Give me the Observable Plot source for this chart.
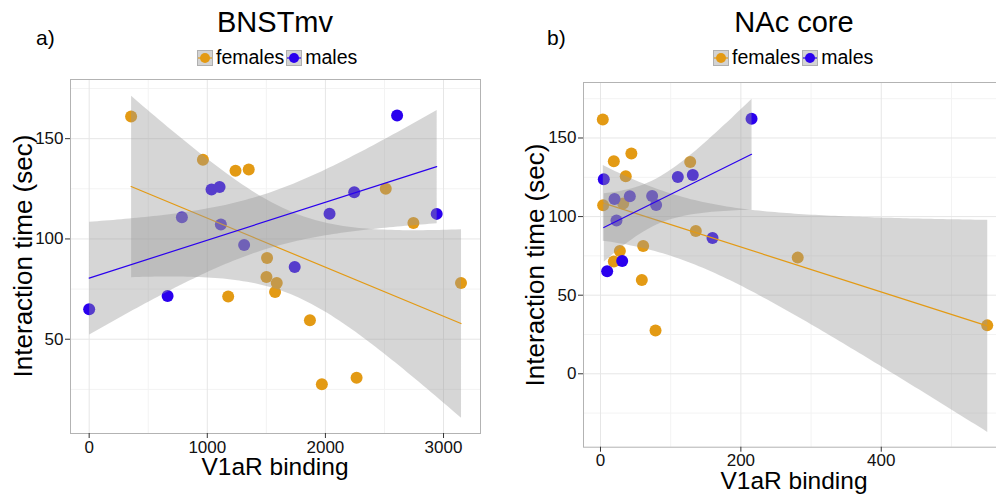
<!DOCTYPE html>
<html>
<head>
<meta charset="utf-8">
<script src="https://cdn.jsdelivr.net/npm/d3@7"></script>
<script src="https://cdn.jsdelivr.net/npm/@observablehq/plot@0.6"></script>
<style>
html, body { margin: 0; padding: 0; background: #fff; }
body { width: 996px; height: 494px; overflow: hidden; position: relative;
       font-family: "Liberation Sans", Arial, Helvetica, sans-serif; color: #000; }
.abs { position: absolute; white-space: nowrap; line-height: 1; }
.title { font-size: 29px; text-align: center; width: 400px; }
.tag { font-size: 21px; }
.xlab { font-size: 24.5px; text-align: center; width: 400px; line-height: 0.75; }
.ylab { font-size: 26px; transform: translate(-50%, -50%) rotate(-90deg); }
.legend { display: flex; align-items: center; font-size: 19.5px; height: 17px; }
.key { display: inline-block; width: 16px; height: 16px; background: #d3d3d3; border: 1px solid #b0b0b0;
       box-sizing: border-box; position: relative; }
.key svg { position: absolute; left: -1px; top: -1px; }
.lt { margin-left: 3px; margin-right: 2px; }
.panel { position: absolute; }
</style>
</head>
<body>
<div id="root"></div>
<script>
// ---- data ----
const sexes = ["females", "males"];
const sexColors = ["#E39A14", "#2A00EE"];

// Panel a: BNSTmv
const bnstFemX = [355, 963, 1239, 1351, 2511, 2745, 1506, 1501, 1588, 1574, 1177, 1869, 1970, 2264, 3148];
const bnstFemY = [161, 139.5, 134, 134.6, 125, 108, 90.5, 81, 78, 73.5, 71.3, 59.5, 27.6, 30.8, 78];
const bnstMalX = [2607, 1036, 1104, 785, 1115, 2244, 2035, 2942, 1312, 1740, 664, 0];
const bnstMalY = [161.5, 124.6, 125.9, 110.8, 107.2, 123.3, 112.6, 112.5, 97, 86, 71.5, 65];
const bnstXTicks = [0, 1000, 2000, 3000];
const bnstXMinor = [500, 1500, 2500];
const bnstYTicks = [50, 100, 150];
const bnstYMinor = [25, 75, 125, 175];

// Panel b: NAc core
const nacFemX = [3.3, 19, 44, 36, 127.8, 3.8, 32.3, 135.8, 60.8, 27.6, 281, 19, 58.9, 78.4, 551];
const nacFemY = [161.8, 135.2, 140.1, 125.7, 134.8, 107.2, 108.3, 90.8, 81.3, 78.1, 73.9, 71.5, 59.6, 27.6, 30.8];
const nacMalX = [215.2, 4.7, 110.2, 131.5, 20, 41.8, 73.6, 79.3, 22.8, 159.6, 30.9, 9.5];
const nacMalY = [162.2, 123.8, 125.2, 126.5, 111.2, 112.9, 113.1, 107.4, 97.5, 86.4, 71.7, 65.2];
const nacXTicks = [0, 200, 400];
const nacXMinor = [100, 300, 500];
const nacYTicks = [0, 50, 100, 150];
const nacYMinor = [-25, 25, 75, 125, 175];

const panelTitles = ["BNSTmv", "NAc core"];
const panelTags = ["a)", "b)"];
const xTitle = "V1aR binding";
const yTitle = "Interaction time (sec)";

// ---- drawing ----
function makePanel(o) {
  const rows = [
    ...o.fx.map((x, i) => ({x, y: o.fy[i], sex: sexes[0]})),
    ...o.mx.map((x, i) => ({x, y: o.my[i], sex: sexes[1]}))
  ];
  const fmt = (d) => String(d);
  return Plot.plot({
    width: o.width, height: o.height,
    marginLeft: o.ml, marginRight: o.mr, marginTop: o.mt, marginBottom: o.mb,
    style: {fontFamily: "Liberation Sans, Arial, sans-serif", background: "transparent", color: "#000"},
    x: {domain: o.xDomain},
    y: {domain: o.yDomain},
    color: {domain: sexes, range: sexColors},
    marks: [
      Plot.gridX(o.xMinor, {stroke: "#f3f3f3", strokeOpacity: 1}),
      Plot.gridY(o.yMinor, {stroke: "#f3f3f3", strokeOpacity: 1}),
      Plot.gridX(o.xTicks, {stroke: "#e6e6e6", strokeOpacity: 1}),
      Plot.gridY(o.yTicks, {stroke: "#e6e6e6", strokeOpacity: 1}),
      Plot.dot(rows, {x: "x", y: "y", fill: "sex", r: 6, stroke: "none"}),
      Plot.linearRegressionY(rows, {x: "x", y: "y", stroke: "sex", fill: "#999999", fillOpacity: 0.4, strokeWidth: 1.2}),
      Plot.frame({stroke: "#b3b3b3"}),
      Plot.axisX(o.xTicks, {tickSize: 5, tickPadding: 2, fontSize: 17, label: null, stroke: "#333", fill: "#111", tickFormat: fmt}),
      Plot.axisY(o.yTicks, {tickSize: 5, tickPadding: 2, fontSize: 17, label: null, stroke: "#333", fill: "#111", tickFormat: fmt})
    ]
  });
}

const root = document.getElementById("root");
function place(el, left, top) {
  el.classList.add("panel");
  el.style.left = left + "px";
  el.style.top = top + "px";
  root.appendChild(el);
}
function addText(cls, text, left, top) {
  const d = document.createElement("div");
  d.className = "abs " + cls;
  d.textContent = text;
  d.style.left = left + "px";
  d.style.top = top + "px";
  root.appendChild(d);
  return d;
}
function addLegend(left, top) {
  const d = document.createElement("div");
  d.className = "abs legend";
  d.style.left = left + "px";
  d.style.top = top + "px";
  sexes.forEach((s, i) => {
    const k = document.createElement("span");
    k.className = "key";
    k.innerHTML = `<svg width="16" height="16"><line x1="1" y1="8" x2="15" y2="8" stroke="${sexColors[i]}" stroke-width="1.2"/><circle cx="8" cy="8" r="5" fill="${sexColors[i]}"/></svg>`;
    d.appendChild(k);
    const t = document.createElement("span");
    t.className = "lt";
    t.textContent = s;
    d.appendChild(t);
  });
  root.appendChild(d);
}

// Panel a
place(makePanel({
  fx: bnstFemX, fy: bnstFemY, mx: bnstMalX, my: bnstMalY,
  xDomain: [-158, 3313], yDomain: [3, 179.5],
  xTicks: bnstXTicks, xMinor: bnstXMinor, yTicks: bnstYTicks, yMinor: bnstYMinor,
  width: 490, height: 424, ml: 70, mr: 10, mt: 9, mb: 61
}), 0, 70);

// Panel b
place(makePanel({
  fx: nacFemX, fy: nacFemY, mx: nacMalX, my: nacMalY,
  xDomain: [-24.2, 577], yDomain: [-46.7, 185.3],
  xTicks: nacXTicks, xMinor: nacXMinor, yTicks: nacYTicks, yMinor: nacYMinor,
  width: 520, height: 424, ml: 83, mr: 15, mt: 12, mb: 47.3
}), 500, 70);

// Titles, tags, legends, axis titles
addText("title", panelTitles[0], 275 - 200, 7.5);
addText("title", panelTitles[1], 794 - 200, 7.5);
addText("tag", panelTags[0], 36, 27);
addText("tag", panelTags[1], 547, 27);
addLegend(197, 49.5);
addLegend(713, 49.5);
addText("xlab", xTitle, 275 - 200, 457.5);
addText("xlab", xTitle, 794 - 200, 471.5);
addText("ylab", yTitle, 23, 256);
addText("ylab", yTitle, 534.5, 264.5);
</script>
</body>
</html>
